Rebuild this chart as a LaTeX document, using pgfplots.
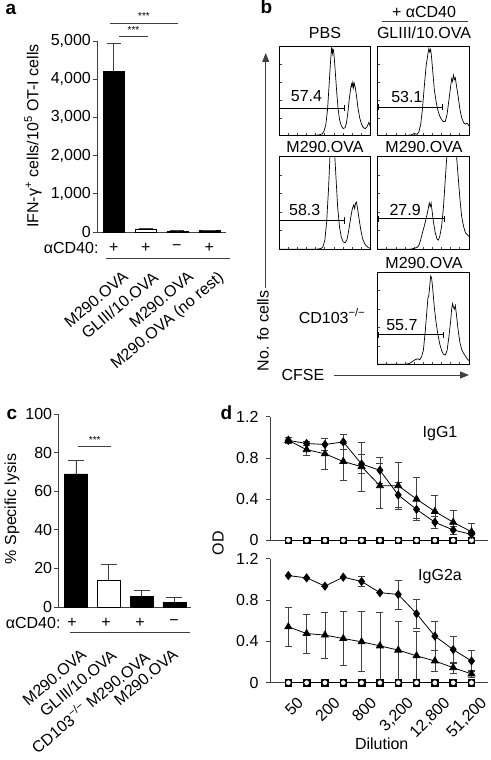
\documentclass[border=0pt]{standalone}
\usepackage{pgfplots}
\pgfplotsset{compat=1.18}
\usepackage{fontspec}
\setmainfont{Liberation Sans}
\usetikzlibrary{arrows.meta}
\definecolor{ax}{gray}{0.25}
\pgfplotsset{
  every axis/.append style={font=\fontsize{16}{19}\selectfont,
    /pgf/number format/assume math mode=true,
    scale only axis, anchor=south west,
    axis line style={ax, line width=0.8pt},
    every tick/.style={ax, line width=0.8pt}},
  barax/.style={axis lines=left, axis line style={-}, tick align=outside,
    major tick length=4pt, xtick style={draw=none},
    xticklabel style={rotate=40, anchor=north east, inner sep=0pt},
    yticklabel style={inner xsep=2pt},
    scaled y ticks=false},
  hist/.style={xmin=0, xmax=100, ymin=0, ymax=100,
    xtick={0,10,...,100}, ytick={0,20,...,100},
    xticklabel=\empty, yticklabel=\empty,
    tick align=inside, major tick length=2.5pt,
    xtick pos=left, ytick pos=left,
    axis line style={black, line width=0.8pt}},
  hline/.style={black, line width=0.8pt},
  odax/.style={axis lines=left, axis line style={-}, tick align=outside,
    major tick length=4pt, xmin=-1, xmax=10.9, ymin=0, ymax=1.2,
    ytick={0,0.4,0.8,1.2}, clip=false,
    yticklabel style={/pgf/number format/fixed, /pgf/number format/precision=1, xshift=-4pt}},
  dia/.style={black, line width=0.8pt, mark=diamond*, mark size=4pt, mark options={solid, fill=black},
    error bars/.cd, y dir=both, y explicit, error bar style={ax, line width=0.7pt},
    error mark options={rotate=90, ax, line width=0.7pt, mark size=3.5pt}},
  tri/.style={black, line width=0.8pt, mark=triangle*, mark size=4pt, mark options={solid, fill=black},
    error bars/.cd, y dir=both, y explicit, error bar style={ax, line width=0.7pt},
    error mark options={rotate=90, ax, line width=0.7pt, mark size=3.5pt}},
  sq/.style={black, line width=0.8pt, mark=square*, mark size=3.3pt, mark options={fill=black}},
  ci/.style={draw=none, mark=*, mark size=2.1pt, mark options={fill=white, draw=white}},
  barerr/.style={error bars/.cd, y dir=plus, y explicit,
    error bar style={ax, line width=0.8pt},
    error mark options={rotate=90, ax, line width=0.8pt, mark size=#1}},
}
\begin{document}
\begin{tikzpicture}
\useasboundingbox (0pt,0pt) rectangle (490pt,-760pt);
\tikzset{every node/.style={font=\fontsize{16}{19}\selectfont}}
% ---------------- panel a ----------------
\node[anchor=base west, font=\fontsize{19}{22}\selectfont\bfseries] at (2pt,-15pt) {a};
\begin{axis}[barax, at={(97pt,-232pt)}, width=129pt, height=191pt,
  xmin=-0.52, xmax=3.52, ymin=0, ymax=5000,
  ytick={0,1000,2000,3000,4000,5000},
  /pgf/number format/1000 sep={,},
  xtick={0.26,1.20,2.30,3.24},
  xticklabels={M290.OVA, GLIII/10.OVA, M290.OVA, M290.OVA (no rest)},
  xticklabel shift=34pt]
\addplot[ybar, bar width=0.66, bar shift=0pt, fill=black, draw=black, barerr=7pt]
  coordinates {(0,4200) +- (0,750) (2,25) +- (0,8) (3,35) +- (0,15)};
\addplot[ybar, bar width=0.66, bar shift=0pt, fill=white, draw=black, barerr=7pt]
  coordinates {(1,80) +- (0,20)};
\end{axis}
\node[rotate=90] at (33pt,-136pt) {IFN-γ\textsuperscript{+} cells/10\textsuperscript{5} OT-I cells};
\draw[ax, line width=0.8pt] (119pt,-36.7pt) -- (148pt,-36.7pt);
\node[font=\fontsize{10}{12}\selectfont] at (133.5pt,-30pt) {***};
\draw[ax, line width=0.8pt] (110pt,-23.3pt) -- (178pt,-23.3pt);
\node[font=\fontsize{10}{12}\selectfont] at (144pt,-16.5pt) {***};
\node[anchor=east] at (102pt,-248pt) {αCD40:};
\node at (113.7pt,-248pt) {+};
\node at (145.7pt,-248pt) {+};
\node at (176.7pt,-248pt) {−};
\node at (209.3pt,-248pt) {+};
\draw[ax, line width=0.8pt] (106pt,-258pt) -- (230pt,-258pt);
% ---------------- panel b ----------------
\node[anchor=base west, font=\fontsize{19}{22}\selectfont\bfseries] at (257pt,-14pt) {b};
\node at (424pt,-12pt) {+ αCD40};
\draw[ax, line width=0.8pt] (381.7pt,-21.7pt) -- (467.7pt,-21.7pt);
\node at (325pt,-33pt) {PBS};
\node at (424pt,-33pt) {GLIII/10.OVA};
\node at (325pt,-147pt) {M290.OVA};
\node at (424pt,-147pt) {M290.OVA};
\node at (424pt,-262.7pt) {M290.OVA};
\node at (332pt,-316pt) {CD103\textsuperscript{−/−}};
\begin{axis}[hist, at={(279pt,-135.7pt)}, width=91.7pt, height=89pt]
\addplot[black, line width=0.7pt] coordinates {(0,0) (30,0) (40,0.5) (44,1) (47,2) (49,5) (51,12) (53,30) (54.5,55) (56,80) (57,95) (57.5,100) (58.2,92) (59,97) (59.5,96) (60.2,88) (61.5,70) (63,48) (64.5,30) (66,18) (68,11) (70,8) (72,9) (73.5,14) (75,25) (76.5,40) (78,52) (79,58) (79.7,55) (80.5,60) (81.3,54) (82,59) (83,55) (84.5,45) (86,32) (88,20) (90,13) (92,9) (94,8) (96,10) (98,15) (100,9)};
\addplot[hline, |-|] coordinates {(0,31) (72,31)};
\node at (axis cs:30,44) {57.4};
\end{axis}
\begin{axis}[hist, at={(377.7pt,-135.7pt)}, width=91.3pt, height=89pt]
\addplot[black, line width=0.7pt] coordinates {(0,0) (30,0) (37,1) (40,2.5) (43,1.5) (45,4) (47,12) (49,30) (51,55) (53,78) (55,92) (56,98) (57,94) (58,97) (59,88) (60.5,70) (62,52) (64,38) (66,28) (68,22) (70,18) (72,16) (74,16) (76,24) (78,40) (80,56) (81,64) (82,61) (83,68) (84,63) (85,65) (86,58) (88,45) (90,30) (92,20) (94,15) (96,13) (98,14) (100,11)};
\addplot[hline, |-|] coordinates {(0,32) (71.5,32)};
\node at (axis cs:32,44) {53.1};
\end{axis}
\begin{axis}[hist, at={(279pt,-249.3pt)}, width=91.7pt, height=92.6pt]
\addplot[black, line width=0.7pt] coordinates {(0,0) (40,0) (44,0.5) (46,1) (48,3) (50,10) (52,30) (54,65) (56,110) (58,130) (60,115) (62,80) (64,45) (66,24) (68,13) (70,8) (72,7) (74,10) (76,20) (78,33) (80,44) (81.5,48) (82.5,44) (83.5,50) (84.5,51) (85.5,45) (87,35) (89,22) (91,12) (93,7) (95,4) (97,2) (100,1)};
\addplot[hline, |-|] coordinates {(0,31) (72,31)};
\node at (axis cs:28,42) {58.3};
\end{axis}
\begin{axis}[hist, at={(377.7pt,-249.3pt)}, width=91.3pt, height=92.6pt]
\addplot[black, line width=0.7pt] coordinates {(0,0) (35,0) (40,1) (43,2) (45,4) (47,10) (49,18) (51,25) (53,33) (55,42) (56.5,50) (57.5,46) (58.5,50) (59.5,42) (61,30) (63,18) (65,11) (66.5,10) (68,14) (70,25) (72,45) (74,75) (76,105) (78,125) (80,115) (82,130) (84,120) (86,105) (88,80) (90,55) (92,35) (94,25) (96,18) (98,16) (100,14)};
\addplot[hline, |-|] coordinates {(0,33) (73,33)};
\node at (axis cs:30,42) {27.9};
\end{axis}
\begin{axis}[hist, at={(377.7pt,-364.3pt)}, width=91.3pt, height=92pt]
\addplot[black, line width=0.7pt] coordinates {(0,0) (30,0) (35,1) (38,3) (41,5) (44,6) (46,5) (48,8) (50,15) (52,35) (54,60) (55,72) (56,75) (57,85) (58,96) (59,94) (60,85) (62,62) (64,45) (66,32) (68,22) (70,15) (72,11) (74,10) (76,15) (78,30) (80,48) (81,60) (82,66) (83,62) (84,60) (85,64) (86,56) (88,38) (90,24) (92,16) (94,12) (96,9) (98,6) (100,4)};
\addplot[hline, |-|] coordinates {(0,32) (72,32)};
\node at (axis cs:26.5,43) {55.7};
\end{axis}
\draw[ax, line width=0.8pt, -{Triangle[length=9pt,width=7pt]}] (265.7pt,-288pt) -- (265.7pt,-53pt);
\node[rotate=90] at (263pt,-331pt) {No. fo cells};
\node at (303pt,-375pt) {CFSE};
\draw[ax, line width=0.8pt, -{Triangle[length=9pt,width=7pt]}] (334pt,-375pt) -- (469pt,-375pt);
% ---------------- panel c ----------------
\node[anchor=base west, font=\fontsize{19}{22}\selectfont\bfseries] at (3pt,-419pt) {c};
\begin{axis}[barax, at={(58.3pt,-607pt)}, width=132.4pt, height=193pt,
  xmin=-0.54, xmax=3.5, ymin=0, ymax=100,
  ytick={0,20,...,100},
  xtick={0.13,1.04,2.01,2.92},
  xticklabels={M290.OVA, GLIII/10.OVA, CD103\textsuperscript{−/−} M290.OVA, M290.OVA},
  xticklabel shift=37pt]
\addplot[ybar, bar width=0.7, bar shift=0pt, fill=black, draw=black, barerr=8pt]
  coordinates {(0,69) +- (0,7) (2,5.5) +- (0,3) (3,2.5) +- (0,2.7)};
\addplot[ybar, bar width=0.7, bar shift=0pt, fill=white, draw=black, barerr=8pt]
  coordinates {(1,14) +- (0,8)};
\end{axis}
\node[rotate=90] at (12pt,-509pt) {\% Specific lysis};
\draw[ax, line width=0.8pt] (78.3pt,-446.7pt) -- (111pt,-446.7pt);
\node[font=\fontsize{10}{12}\selectfont] at (94.7pt,-440pt) {***};
\node[anchor=east] at (64pt,-623pt) {αCD40:};
\node at (72pt,-623pt) {+};
\node at (106pt,-623pt) {+};
\node at (140pt,-623pt) {+};
\node at (174pt,-623pt) {−};
\draw[ax, line width=0.8pt] (70pt,-632.3pt) -- (190pt,-632.3pt);
% ---------------- panel d ----------------
\node[anchor=base west, font=\fontsize{19}{22}\selectfont\bfseries] at (217pt,-419pt) {d};
\begin{axis}[odax, at={(270pt,-540.3pt)}, width=218pt, height=123.6pt, xtick=\empty]
\addplot[sq] coordinates {(0,0) (1,0) (2,0) (3,0) (4,0) (5,0) (6,0) (7,0) (8,0) (9,0) (10,0)};
\addplot[ci] coordinates {(0,0) (1,0) (2,0) (3,0) (4,0) (5,0) (6,0) (7,0) (8,0) (9,0) (10,0)};
\addplot[tri] coordinates {(0,0.97) +- (0,0.03) (1,0.88) +- (0,0.06) (2,0.84) +- (0,0.15) (3,0.765) +- (0,0.18) (4,0.715) +- (0,0.24) (5,0.53) +- (0,0.22) (6,0.53) +- (0,0.23) (7,0.40) +- (0,0.21) (8,0.28) +- (0,0.16) (9,0.175) +- (0,0.115) (10,0.083) +- (0,0.08)};
\addplot[dia] coordinates {(0,0.97) +- (0,0.03) (1,0.94) +- (0,0.02) (2,0.93) +- (0,0.06) (3,0.955) +- (0,0.07) (4,0.74) +- (0,0.09) (5,0.68) +- (0,0.13) (6,0.44) +- (0,0.12) (7,0.30) +- (0,0.09) (8,0.175) +- (0,0.06) (9,0.10) +- (0,0.04) (10,0.058) +- (0,0.03)};
\end{axis}
\node at (440pt,-433.3pt) {IgG1};
\begin{axis}[odax, at={(270pt,-682.7pt)}, width=218pt, height=124.2pt,
  xtick={0,2,4,6,8,10}, xticklabels={50,200,800,{3,200},{12,800},{51,200}},
  xtick style={draw=none},
  xticklabel style={inner sep=0pt, xshift=8pt, yshift=-9pt, rotate=45, anchor=north east}]
\addplot[sq] coordinates {(0,0) (1,0) (2,0) (3,0) (4,0) (5,0) (6,0) (7,0) (8,0) (9,0) (10,0)};
\addplot[ci] coordinates {(0,0) (1,0) (2,0) (3,0) (4,0) (5,0) (6,0) (7,0) (8,0) (9,0) (10,0)};
\addplot[tri] coordinates {(0,0.54) +- (0,0.19) (1,0.475) +- (0,0.19) (2,0.46) +- (0,0.22) (3,0.427) +- (0,0.26) (4,0.395) +- (0,0.29) (5,0.356) +- (0,0.32) (6,0.315) +- (0,0.28) (7,0.26) +- (0,0.24) (8,0.21) +- (0,0.10) (9,0.145) +- (0,0.05) (10,0.085) +- (0,0.03)};
\addplot[dia] coordinates {(0,1.035) +- (0,0) (1,1.013) +- (0,0) (2,0.933) +- (0,0) (3,1.02) +- (0,0) (4,0.978) +- (0,0.045) (5,0.87) +- (0,0) (6,0.853) +- (0,0.14) (7,0.667) +- (0,0.14) (8,0.45) +- (0,0.14) (9,0.32) +- (0,0.13) (10,0.21) +- (0,0.10)};
\end{axis}
\node at (440pt,-576.7pt) {IgG2a};
\node[rotate=90] at (218pt,-543pt) {OD};
\node at (381.7pt,-743.3pt) {Dilution};
\end{tikzpicture}
\end{document}
